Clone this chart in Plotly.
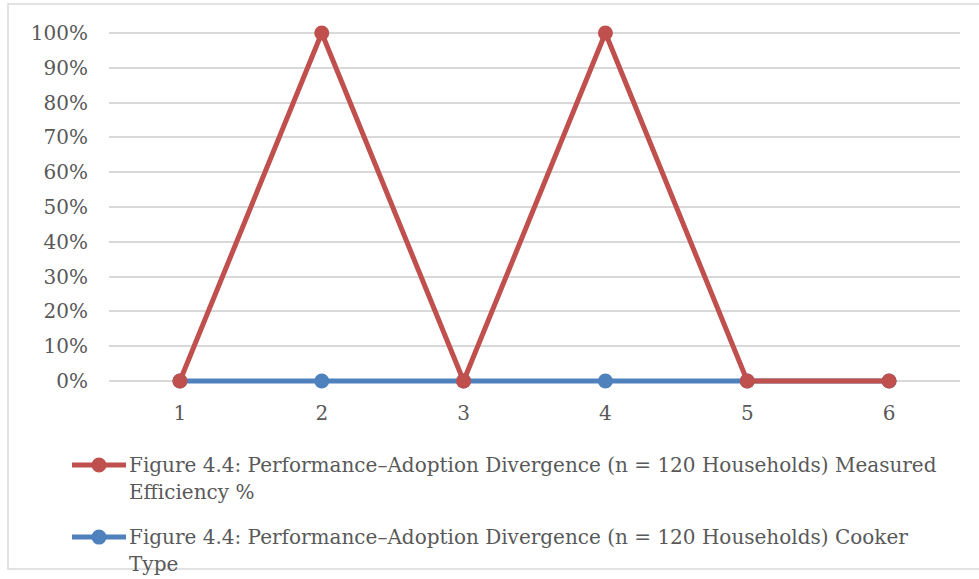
import plotly.graph_objects as go

categories = [1, 2, 3, 4, 5, 6]
efficiency = [0, 1, 0, 1, 0, 0]
cooker_type = [0, 0, 0, 0, 0, 0]
y_ticks = [0, 0.1, 0.2, 0.3, 0.4, 0.5, 0.6, 0.7, 0.8, 0.9, 1.0]
legend_eff = ["Figure 4.4: Performance–Adoption Divergence (n = 120 Households) Measured", "Efficiency %"]
legend_cook = ["Figure 4.4: Performance–Adoption Divergence (n = 120 Households) Cooker", "Type"]

RED = "#C0504D"
BLUE = "#4F81BD"
TXT = "#595959"
GRID = "#D9D9D9"
FONT = "DejaVu Serif, Cambria, serif"
FS = 20

fig = go.Figure()
fig.add_trace(go.Scatter(x=categories, y=cooker_type, mode="lines+markers", name=" ".join(legend_cook),
                         line=dict(color=BLUE, width=5), marker=dict(color=BLUE, size=15),
                         cliponaxis=False, showlegend=False))
fig.add_trace(go.Scatter(x=categories, y=efficiency, mode="lines+markers", name=" ".join(legend_eff),
                         line=dict(color=RED, width=5), marker=dict(color=RED, size=15),
                         cliponaxis=False, showlegend=False))

W, H = 979, 579
PAD = 0.02            # small extra y-range so the thick lines at 0 / 100% are not clipped
Y_TOP, Y_ZERO = 33, 381   # pixel rows of 100% and 0%
unit = Y_ZERO - Y_TOP
L, R = 109, 19
T = Y_TOP - unit * PAD
B = H - (Y_ZERO + unit * PAD)
pw, ph = W - L - R, H - T - B

def px(xp):
    return (xp - L) / pw

def py(yp):
    return (H - B - yp) / ph

shapes = [dict(type="rect", xref="paper", yref="paper", x0=px(8), x1=px(985), y0=py(569), y1=py(4),
               line=dict(color=GRID, width=1.5), fillcolor="rgba(0,0,0,0)", layer="below")]
annotations = []
for lines, color, yc in [(legend_eff, RED, 465), (legend_cook, BLUE, 537)]:
    shapes.append(dict(type="line", xref="paper", yref="paper", x0=px(72), x1=px(126),
                       y0=py(yc), y1=py(yc), line=dict(color=color, width=5)))
    shapes.append(dict(type="circle", xref="paper", yref="paper", x0=px(91.5), x1=px(106.5),
                       y0=py(yc + 7.5), y1=py(yc - 7.5), fillcolor=color, line=dict(width=0)))
    for i, t in enumerate(lines):
        annotations.append(dict(xref="paper", yref="paper", x=px(127), y=py(yc + 27 * i),
                                xanchor="left", yanchor="middle", text=t, showarrow=False,
                                font=dict(family=FONT, size=FS, color=TXT)))

fig.update_layout(
    width=W, height=H,
    margin=dict(l=L, r=R, t=T, b=B),
    paper_bgcolor="white", plot_bgcolor="white",
    font=dict(family=FONT, size=FS, color=TXT),
    xaxis=dict(range=[0.5, 6.5], tickvals=categories, ticktext=[str(c) for c in categories],
               showgrid=False, zeroline=False, showline=False, ticks="",
               ticklabelstandoff=11, fixedrange=True),
    yaxis=dict(range=[-PAD, 1 + PAD], tickvals=y_ticks, tickformat=".0%", showgrid=True, gridcolor=GRID,
               gridwidth=1.5, zeroline=False, showline=False, ticks="", ticklabelstandoff=20,
               fixedrange=True),
    showlegend=False,
    shapes=shapes,
    annotations=annotations,
)

fig.write_html("out.html", config={"displayModeBar": False},
               post_script="document.body.style.margin='0';document.body.style.overflow='hidden';")
